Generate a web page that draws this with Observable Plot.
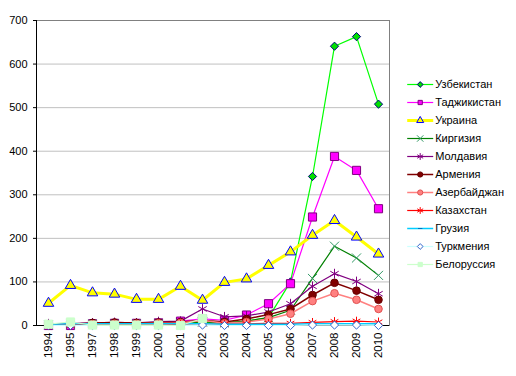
<!DOCTYPE html>
<html>
<head>
<meta charset="utf-8">
<script src="https://cdn.jsdelivr.net/npm/d3@7"></script>
<script src="https://cdn.jsdelivr.net/npm/@observablehq/plot@0.6"></script>
<style>
  body { margin: 0; background: #fff; }
  #wrap { position: relative; width: 516px; height: 376px; font-family: "Liberation Sans", Arial, sans-serif; }
  #legend { position: absolute; left: 390px; top: 72px; }
  #chart { position: absolute; left: 0; top: 0; }
</style>
</head>
<body>
<div id="wrap"><div id="chart"></div><div id="legend"></div></div>
<script>
const years = ["1994","1995","1997","1998","1999","2000","2001","2002","2003","2004","2005","2006","2007","2008","2009","2010"];
const yTicks = [0, 100, 200, 300, 400, 500, 600, 700];

const seriesNames = ["Узбекистан","Таджикистан","Украина","Киргизия","Молдавия","Армения","Азербайджан","Казахстан","Грузия","Туркмения","Белоруссия"];

const uzbekistan  = [1, 2, 2, 3, 3, 3, 4, 6, 6, 10, 18, 100, 342, 641, 663, 508];
const tajikistan  = [0, 0, 4, 5, 5, 6, 10, 15, 12, 24, 50, 96, 249, 388, 356, 268];
const ukraine     = [51, 92, 75, 72, 60, 60, 90, 58, 99, 107, 138, 169, 207, 241, 203, 164];
const kirgizia    = [2, 3, 3, 3, 3, 4, 4, 8, 6, 10, 18, 35, 108, 182, 155, 115];
const moldavia    = [4, 5, 6, 7, 6, 9, 10, 38, 20, 22, 31, 50, 90, 119, 101, 73];
const armenia     = [2, 3, 6, 7, 6, 7, 8, 12, 8, 15, 25, 38, 70, 98, 80, 59];
const azerbaijan  = [1, 2, 3, 4, 4, 5, 6, 12, 5, 8, 15, 27, 56, 74, 59, 38];
const kazakhstan  = [1, 1, 2, 2, 2, 2, 3, 4, 3, 4, 5, 5, 7, 9, 10, 8];
const georgia     = [3, 4, 4, 4, 4, 4, 4, 4, 3, 3, 3, 3, 4, 4, 4, 4];
const turkmenia   = [0, 0, 0, 0, 0, 0, 0, 1, 0, 0, 0, 0, 1, 1, 1, 0];
const belorussia  = [3, 8, 1, 1, 1, 1, 0, 16, null, null, null, null, null, null, null, null];

const dash = { draw(ctx, size) { const r = Math.sqrt(size / Math.PI); ctx.moveTo(-r, 0); ctx.lineTo(r, 0); } };

const styles = [
  { values: uzbekistan, line: "#00ff00", lw: 1.2, symbol: "diamond2", fill: "#00e000", stroke: "#000080", r: 3.7, lr: 2.6 },
  { values: tajikistan, line: "#ff00ff", lw: 1.2, symbol: "square", fill: "#ff00ff", stroke: "#800080", r: 4.6, lr: 2.4 },
  { values: ukraine, line: "#ffff00", lw: 3, symbol: "triangle", fill: "#ffff00", stroke: "#0000ff", r: 3.9, lr: 2.6 },
  { values: kirgizia, line: "#008000", lw: 1.2, symbol: "times", fill: "none", stroke: "#339966", r: 4.2, lr: 3 },
  { values: moldavia, line: "#800080", lw: 1.2, symbol: "asterisk", fill: "none", stroke: "#800080", r: 4.6, lr: 3.2 },
  { values: armenia, line: "#800000", lw: 1.5, symbol: "circle", fill: "#800000", stroke: "#660000", r: 3.8, lr: 2.6 },
  { values: azerbaijan, line: "#ff8080", lw: 1.5, symbol: "circle", fill: "#ff8080", stroke: "#e05050", r: 3.8, lr: 2.6 },
  { values: kazakhstan, line: "#ff0000", lw: 1.2, symbol: "asterisk", fill: "none", stroke: "#ff0000", r: 4.2, lr: 3.2 },
  { values: georgia, line: "#00ccff", lw: 1.5, symbol: dash, fill: "none", stroke: "#0070c0", r: 2.2, lr: 2.2 },
  { values: turkmenia, line: "#ccffff", lw: 1.2, symbol: "diamond2", fill: "#ffffff", stroke: "#3366cc", r: 3.7, lr: 2.6 },
  { values: belorussia, line: "#ccffcc", lw: 1.2, symbol: "square", fill: "#ccffcc", stroke: "#ccffcc", r: 4.6, lr: 2.4 }
];

const font = { fontFamily: "'Liberation Sans', Arial, sans-serif", fontSize: "11px", color: "#000", background: "#fff" };

const marks = [
  Plot.ruleY(yTicks.filter(d => d > 0), { stroke: "#c0c0c0", strokeWidth: 1 }),
  Plot.frame({ stroke: "#808080" }),
  Plot.ruleY([0], { stroke: "#000" }),
  Plot.frame({ anchor: "left", stroke: "#000" })
];
styles.forEach((s, k) => {
  const rows = years.map((y, i) => ({ year: y, value: s.values[i], series: seriesNames[k] }));
  marks.push(Plot.line(rows, { x: "year", y: "value", stroke: s.line, strokeWidth: s.lw }));
  marks.push(Plot.dot(rows.filter(d => d.value != null), {
    x: "year", y: "value", symbol: () => s.symbol, r: s.r,
    fill: s.fill, stroke: s.stroke, strokeWidth: 1
  }));
});
marks.push(Plot.axisY({ ticks: yTicks, tickSize: 3, tickPadding: 6, tickFormat: d => String(d) }));
marks.push(Plot.axisX({ tickRotate: -90, tickSize: 0, tickPadding: 7, fontSize: 11.5 }));

const chart = Plot.plot({
  width: 516,
  height: 376,
  marginLeft: 36,
  marginRight: 127,
  marginTop: 20,
  marginBottom: 51,
  style: font,
  symbol: { type: "identity" },
  x: { type: "point", domain: years, padding: 0.5, label: null },
  y: { domain: [0, 700], label: null },
  marks
});
document.getElementById("chart").appendChild(chart);

// Legend
const legendRows = seriesNames.map((n, k) => ({ name: n, k }));
const lmarks = [];
legendRows.forEach(d => {
  const s = styles[d.k];
  lmarks.push(Plot.link([d], { x1: () => 0, x2: () => 1, y1: "name", y2: "name", stroke: s.line, strokeWidth: s.lw }));
  lmarks.push(Plot.dot([d], { x: () => 0.5, y: "name", symbol: () => s.symbol, r: s.lr, fill: s.fill, stroke: s.stroke, strokeWidth: 1 }));
});
lmarks.push(Plot.text(legendRows, { x: () => 1, y: "name", text: "name", textAnchor: "start", dx: 2, fill: "#000" }));

const legend = Plot.plot({
  width: 126,
  height: 210,
  margin: 0,
  style: font,
  symbol: { type: "identity" },
  x: { domain: [0, 1], range: [16.7, 42.7], axis: null },
  y: { type: "point", domain: seriesNames, range: [10.3, 194], padding: 0, axis: null },
  marks: lmarks
});
document.getElementById("legend").appendChild(legend);
</script>
</body>
</html>
